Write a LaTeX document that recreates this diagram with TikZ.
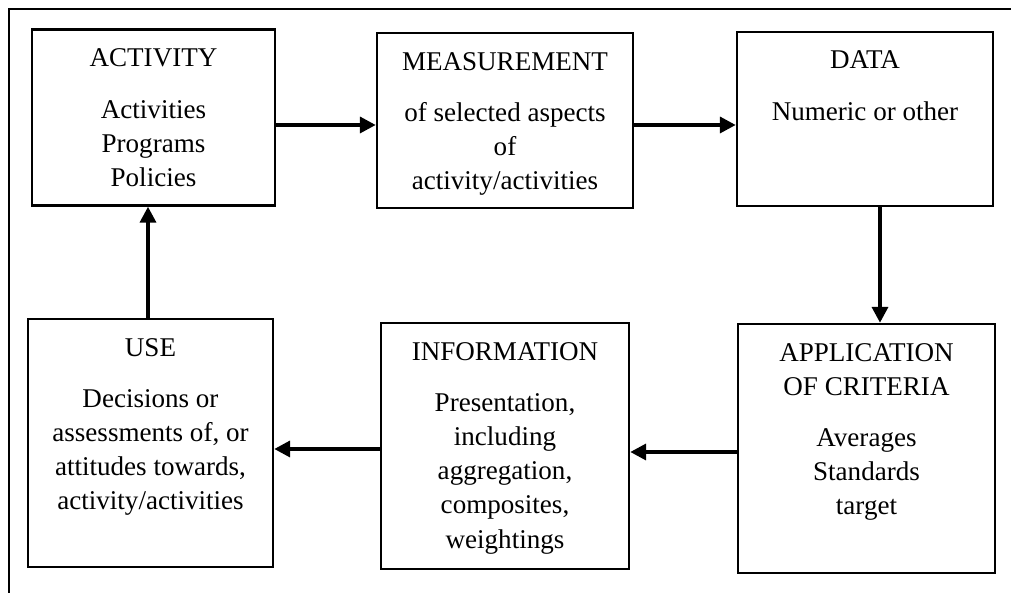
\documentclass[tikz,border=0pt]{standalone}
\usepackage{fontspec}
\setmainfont{Liberation Serif}
\usepackage{tikz}
\usetikzlibrary{
  arrows.meta,
  positioning,
  calc}
\tikzset{every picture/.style={font issue=\fontsize{15.4}{19.4}},
         font issue/.style={execute at begin picture={#1\selectfont}},
         box/.style={draw, line width=1.4pt, inner sep=0pt},
         boxtext/.style={anchor=north, inner sep=0pt, align=center},
         flow/.style={line width=2.1pt, -{Triangle[length=9pt, width=9pt]}}
        }

\begin{document}
\begin{tikzpicture}
\useasboundingbox (0,0) rectangle (20.22,11.86);
%Frame
\coordinate (frameL) at (0.18,0);
\coordinate (frameC) at (0.18,11.68);
\coordinate (frameR) at (20.22,11.68);
\draw[line width=1.3pt] (frameL) -- (frameC) -- (frameR);

%Top row
\node[box, minimum width=4.86cm, minimum height=3.52cm] (act) at (3.07,9.51) {};
\node[box, minimum width=5.12cm, minimum height=3.50cm] (meas) at (10.10,9.45) {};
\node[box, minimum width=5.12cm, minimum height=3.48cm] (data) at (17.30,9.48) {};

\node[boxtext] (actT) at ([yshift=-0.40cm]act.north) {ACTIVITY\\[10pt] Activities\\ Programs\\ Policies};
\node[boxtext] (measT) at ([yshift=-0.40cm]meas.north) {MEASUREMENT\\[10pt] of selected aspects\\ of\\ activity/activities};
\node[boxtext] (dataT) at ([yshift=-0.40cm]data.north) {DATA\\[10pt] Numeric or other};

%Bottom row
\node[box, minimum width=4.90cm, minimum height=4.96cm] (use) at (3.01,3.00) {};
\node[box, minimum width=4.96cm, minimum height=4.92cm] (info) at (10.10,2.94) {};
\node[box, minimum width=5.14cm, minimum height=4.98cm] (app) at (17.33,2.89) {};

\node[boxtext] (useT) at ([yshift=-0.40cm]use.north) {USE\\[10pt] Decisions or\\ assessments of, or\\ attitudes towards,\\ activity/activities};
\node[boxtext] (infoT) at ([yshift=-0.40cm]info.north) {INFORMATION\\[10pt] Presentation,\\ including\\ aggregation,\\ composites,\\ weightings};
\node[boxtext] (appT) at ([yshift=-0.40cm]app.north) {APPLICATION\\ OF CRITERIA\\[10pt] Averages\\ Standards\\ target};

%Arrows
\coordinate (a1) at ([yshift=-0.15cm]act.east);
\coordinate (a2) at ([yshift=-0.09cm]meas.east);
\coordinate (a3) at ([xshift=0.30cm]data.south);
\coordinate (a4) at ([yshift=-0.07cm]app.west);
\coordinate (a5) at ([yshift=-0.06cm]info.west);
\coordinate (a6) at ([xshift=-0.05cm]use.north);

\draw[flow] (a1) -- (a1 -| meas.west);
\draw[flow] (a2) -- (a2 -| data.west);
\draw[flow] (a3) -- (a3 |- app.north);
\draw[flow] (a4) -- (a4 -| info.east);
\draw[flow] (a5) -- (a5 -| use.east);
\draw[flow] (a6) -- (a6 |- act.south);
\end{tikzpicture}
\end{document}
